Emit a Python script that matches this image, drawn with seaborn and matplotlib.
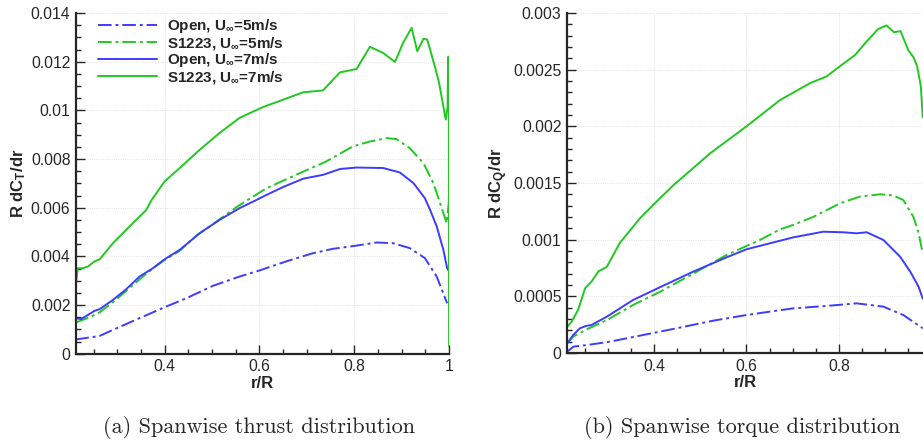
import numpy as np
import pandas as pd
import matplotlib
matplotlib.use("Agg")
import matplotlib.pyplot as plt
import seaborn as sns
from matplotlib.ticker import MultipleLocator, FuncFormatter

# ---------------- data ----------------
# (a) thrust distribution R dCT/dr
thr_open5_x = [0.212, 0.215, 0.263, 0.291, 0.347, 0.40, 0.446, 0.502, 0.558, 0.60, 0.656, 0.713,
               0.755, 0.801, 0.847, 0.882, 0.917, 0.949, 0.974, 0.996]
thr_open5_y = [0.00056, 0.00059, 0.00073, 0.00098, 0.00146, 0.00191, 0.00228, 0.00279, 0.00317, 0.00342,
               0.00379, 0.00413, 0.00431, 0.00443, 0.00457, 0.00454, 0.00434, 0.00393, 0.00317, 0.00207]

thr_s5_x = [0.212, 0.24, 0.263, 0.29, 0.32, 0.35, 0.375, 0.40, 0.43, 0.47, 0.50, 0.55, 0.576, 0.615,
            0.685, 0.741, 0.797, 0.833, 0.868, 0.889, 0.917, 0.946, 0.967, 0.995, 1.0]
thr_s5_y = [0.00128, 0.00148, 0.0017, 0.0021, 0.0026, 0.0031, 0.0035, 0.00385, 0.0042, 0.0049, 0.0053,
            0.0060, 0.00633, 0.0068, 0.00742, 0.0079, 0.00852, 0.00872, 0.00886, 0.00882, 0.00845,
            0.00783, 0.00701, 0.00537, 0.0063]

thr_open7_x = [0.212, 0.224, 0.238, 0.252, 0.263, 0.291, 0.319, 0.347, 0.375, 0.40, 0.432, 0.474, 0.516,
               0.558, 0.594, 0.608, 0.650, 0.692, 0.734, 0.770, 0.805, 0.861, 0.896, 0.925, 0.949, 0.960,
               0.974, 0.988, 0.996, 1.0]
thr_open7_y = [0.00146, 0.00142, 0.00159, 0.00176, 0.00183, 0.00221, 0.00265, 0.00317, 0.00351, 0.00388,
               0.00427, 0.00495, 0.0055, 0.00598, 0.00632, 0.00646, 0.00685, 0.00719, 0.00735, 0.00759,
               0.00765, 0.00763, 0.00745, 0.00701, 0.00639, 0.00591, 0.00523, 0.00427, 0.00351, 0.0034]

thr_s7_x = [0.2125, 0.2168, 0.227, 0.238, 0.252, 0.263, 0.291, 0.319, 0.340, 0.361, 0.372, 0.40, 0.432,
            0.474, 0.516, 0.558, 0.608, 0.650, 0.692, 0.734, 0.770, 0.805, 0.833, 0.861, 0.886, 0.903,
            0.921, 0.933, 0.946, 0.954, 0.970, 0.979, 0.993, 0.997, 0.998, 0.9995, 1.0]
thr_s7_y = [0.0028, 0.00351, 0.00351, 0.00358, 0.00379, 0.00388, 0.00454, 0.00509, 0.0055, 0.0059,
            0.0063, 0.00708, 0.00763, 0.00838, 0.00907, 0.00969, 0.01014, 0.01044, 0.01074, 0.01082,
            0.01156, 0.0117, 0.01261, 0.01236, 0.01199, 0.01277, 0.01339, 0.01243, 0.01294, 0.01291,
            0.01181, 0.01113, 0.00962, 0.01016, 0.0122, 0.0122, 0.0003]

# (b) torque distribution R dCQ/dr
trq_open5_x = [0.2125, 0.226, 0.255, 0.305, 0.377, 0.449, 0.528, 0.600, 0.701, 0.773, 0.838, 0.896,
               0.939, 0.981]
trq_open5_y = [0.000012, 0.000056, 0.00007, 0.0001, 0.000159, 0.000218, 0.000285, 0.000335, 0.000394,
               0.000415, 0.000438, 0.000409, 0.000335, 0.000218]

trq_s5_x = [0.2125, 0.2255, 0.255, 0.298, 0.355, 0.413, 0.485, 0.557, 0.629, 0.672, 0.701, 0.744,
            0.802, 0.845, 0.889, 0.917, 0.939, 0.961, 0.972, 0.981]
trq_s5_y = [0.000085, 0.000145, 0.000209, 0.00029, 0.000424, 0.00054, 0.0007, 0.000865, 0.000997,
            0.00109, 0.00113, 0.0012, 0.00132, 0.00138, 0.0014, 0.00139, 0.00135, 0.0012, 0.00106,
            0.00088]

trq_open7_x = [0.2125, 0.2255, 0.240, 0.253, 0.265, 0.298, 0.355, 0.413, 0.485, 0.557, 0.600, 0.701,
               0.766, 0.809, 0.838, 0.860, 0.896, 0.932, 0.954, 0.972, 0.981]
trq_open7_y = [0.000085, 0.000159, 0.000218, 0.000238, 0.000247, 0.00032, 0.000468, 0.00058, 0.000718,
               0.000844, 0.000915, 0.00102, 0.00107, 0.001065, 0.001056, 0.001065, 0.000997, 0.00085,
               0.000718, 0.000585, 0.00048]

trq_s7_x = [0.2125, 0.222, 0.236, 0.251, 0.265, 0.280, 0.298, 0.326, 0.370, 0.409, 0.442, 0.521,
            0.600, 0.672, 0.737, 0.773, 0.802, 0.835, 0.860, 0.885, 0.903, 0.919, 0.933, 0.950, 0.961,
            0.969, 0.977, 0.981]
trq_s7_y = [0.000232, 0.000276, 0.00038, 0.00057, 0.00063, 0.00072, 0.00076, 0.00097, 0.00119,
            0.00135, 0.00148, 0.00176, 0.002, 0.00223, 0.00238, 0.00244, 0.00253, 0.00263, 0.00275,
            0.00286, 0.00289, 0.00283, 0.00284, 0.00267, 0.00261, 0.00253, 0.00235, 0.00208]

labels = ["Open, U$_{\\infty}$=5m/s", "S1223, U$_{\\infty}$=5m/s",
          "Open, U$_{\\infty}$=7m/s", "S1223, U$_{\\infty}$=7m/s"]

# ---------------- style ----------------
sns.set_style("ticks")
plt.rcParams['font.family'] = ['Liberation Sans', 'DejaVu Sans']
plt.rcParams['mathtext.fontset'] = 'custom'
plt.rcParams['mathtext.bf'] = 'Liberation Sans:bold'
plt.rcParams['mathtext.rm'] = 'Liberation Sans:bold'
plt.rcParams['mathtext.default'] = 'bf'

blue = "#3c3cff"
green = "#22c822"
dashdot = (0, (7, 2, 1.5, 2))
styles = [(blue, dashdot), (green, dashdot), (blue, "-"), (green, "-")]


def draw(ax, series, xlim, ylim, ymaj, ymin, ylabel):
    for (x, y), lab, (c, ls) in zip(series, labels, styles):
        df = pd.DataFrame({"r": x, "v": y})
        sns.lineplot(data=df, x="r", y="v", ax=ax, color=c, linestyle=ls, lw=1.4,
                     sort=False, estimator=None, label=lab)
    ax.set_xlim(*xlim)
    ax.set_ylim(*ylim)
    ax.xaxis.set_major_locator(MultipleLocator(0.2))
    ax.xaxis.set_minor_locator(MultipleLocator(0.05))
    ax.yaxis.set_major_locator(MultipleLocator(ymaj))
    ax.yaxis.set_minor_locator(MultipleLocator(ymin))
    fmt = FuncFormatter(lambda v, p: f"{round(v, 6):g}")
    ax.xaxis.set_major_formatter(fmt)
    ax.yaxis.set_major_formatter(fmt)
    ax.tick_params(which="major", direction="in", length=6.5, width=1.0, labelsize=11.3, pad=4)
    ax.tick_params(which="minor", direction="in", length=3.5, width=1.0)
    ax.grid(True, which="major", color="#d8d8d8", linestyle=":", lw=0.6)
    for s in ["top", "right"]:
        ax.spines[s].set_visible(False)
    for s in ["left", "bottom"]:
        ax.spines[s].set_linewidth(1.6)
    ax.set_xlabel("r/R", fontsize=12, fontweight="bold", labelpad=1)
    ax.set_ylabel(ylabel, fontsize=12, fontweight="bold", labelpad=2)


fig = plt.figure(figsize=(9.23, 4.43), dpi=100)
ax1 = fig.add_axes([0.0823, 0.2016, 0.4042, 0.769])
ax2 = fig.add_axes([0.6143, 0.2032, 0.3857, 0.7675])

draw(ax1, [(thr_open5_x, thr_open5_y), (thr_s5_x, thr_s5_y), (thr_open7_x, thr_open7_y), (thr_s7_x, thr_s7_y)],
     (0.213, 1.0), (0, 0.014), 0.002, 0.0005, "R dC$_T$/dr")
draw(ax2, [(trq_open5_x, trq_open5_y), (trq_s5_x, trq_s5_y), (trq_open7_x, trq_open7_y), (trq_s7_x, trq_s7_y)],
     (0.212, 0.9816), (0, 0.003), 0.0005, 0.0001, "R dC$_Q$/dr")

leg = ax1.legend(loc="upper left", bbox_to_anchor=(0.034, 1.015), frameon=False, fontsize=11,
                 handlelength=3.9, handletextpad=0.6, labelspacing=-0.02, borderaxespad=0.2)
for t in leg.get_texts():
    t.set_fontweight("bold")
ax2.legend().remove()

fig.text(0.281, 0.034, "(a) Spanwise thrust distribution", family="cmr10", fontsize=16,
         ha="center", va="center")
fig.text(0.804, 0.034, "(b) Spanwise torque distribution", family="cmr10", fontsize=16,
         ha="center", va="center")

fig.savefig("out.png", dpi=100)
